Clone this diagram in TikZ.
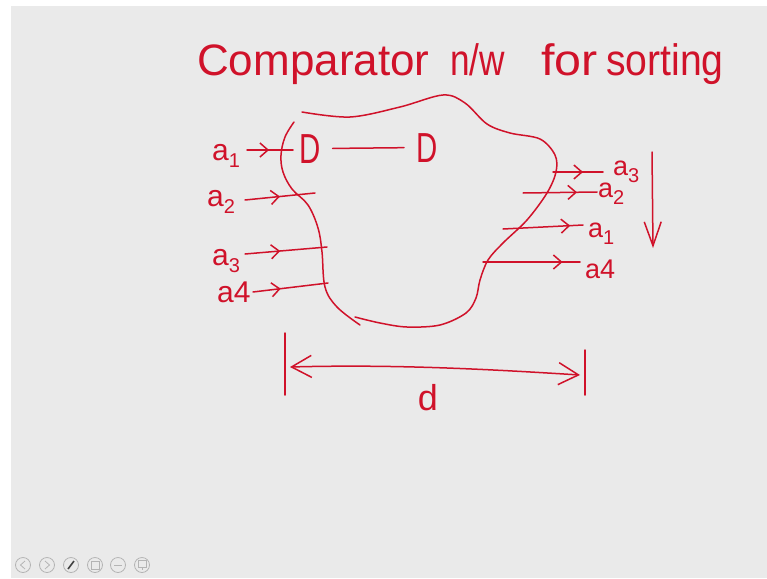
\documentclass[tikz,border=0pt]{standalone}
\usepackage{fontspec}
\setmainfont{Liberation Sans}
\usetikzlibrary{arrows.meta,decorations.markings}
\definecolor{ink}{RGB}{208,18,42}
\definecolor{bgc}{RGB}{234,234,234}
\definecolor{iconc}{RGB}{180,180,180}
\newcommand{\lowsub}[1]{\raisebox{-7pt}{\fontsize{20}{20}\selectfont #1}}
\begin{document}
\begin{tikzpicture}[x=1pt,y=-1pt,
  inkline/.style={draw=ink, line width=1.5pt, line cap=round, line join=round},
  titleword/.style={text=ink, inner sep=0pt, anchor=base west, font=\fontsize{44}{44}\selectfont},
  lab/.style={text=ink, inner sep=0pt, anchor=base west, font=\fontsize{30}{30}\selectfont},
  rlab/.style={text=ink, inner sep=0pt, anchor=base west, font=\fontsize{27}{27}\selectfont},
  dnode/.style={text=ink, inner sep=0pt, anchor=base west, font=\fontsize{42}{42}\selectfont},
  midarrow/.style={postaction={decorate}, decoration={markings,
     mark=at position #1 with {\arrow{Straight Barb[length=8pt,width=14pt]}}}},
  iconring/.style={draw=iconc, line width=0.8pt},
  icon/.style={draw=iconc, line width=0.8pt}
]
\useasboundingbox (0,0) rectangle (767,578);
\fill[white] (0,0) rectangle (767,578);
\fill[bgc] (11,6) rectangle (767,578);

% title
\node[titleword] (t1) at (197,75) {Comparator};
\node[titleword] (t2) at (450,75) {\scalebox{0.8}[1]{n/w}};
\node[titleword] (t3) at (541,75) {\scalebox{1.1}[1]{for}};
\node[titleword] (t4) at (606,75) {\scalebox{0.89}[1]{sorting}};

% blob
\draw[inkline] plot[smooth, tension=0.55] coordinates {(302,112) (350,117) (400,107) (443,95) (465,103) (487,124) (510,133) (540,139) (555,155) (556,172) (547,193) (527,220) (503,243) (488,260) (480,280) (476,298) (466,313) (440,325) (407,327) (380,323) (355,317)};
\draw[inkline] plot[smooth, tension=0.6] coordinates {(294,122) (285,137) (281,155) (283,172) (292,189) (308,205) (318,228) (322,252) (325,287) (337,307) (360,325)};

% D -- D
\node[dnode] (d1) at (299,163) {\scalebox{0.7}[1]{D}};
\node[dnode] (d2) at (416,162) {\scalebox{0.7}[1]{D}};
\draw[inkline, shorten <=12pt, shorten >=12pt] (d1.east) -- (d2.west);

% left labels and arrows
\node[lab] (la1) at (212,160) {a\lowsub{1}};
\node[lab] (la2) at (207,206) {a\lowsub{2}};
\node[lab] (la3) at (212,265) {a\lowsub{3}};
\node[lab] (la4) at (217,302) {a4};
\coordinate (l1s) at (247,150); \coordinate (l1e) at (293,150);
\coordinate (l2s) at (245,200); \coordinate (l2e) at (315,193);
\coordinate (l3s) at (245,254); \coordinate (l3e) at (327,247);
\coordinate (l4s) at (253,292); \coordinate (l4e) at (328,283);
\draw[inkline, midarrow=0.48] (l1s) -- (l1e);
\draw[inkline, midarrow=0.5] (l2s) -- (l2e);
\draw[inkline, midarrow=0.43] (l3s) -- (l3e);
\draw[inkline, midarrow=0.37] (l4s) -- (l4e);

% right labels and arrows
\node[rlab] (ra3) at (613,175) {a\lowsub{3}};
\node[rlab] (ra2) at (598,197) {a\lowsub{2}};
\node[rlab] (ra1) at (588,237) {a\lowsub{1}};
\node[rlab] (ra4) at (585,278) {a4};
\coordinate (r3s) at (553,172); \coordinate (r3e) at (603,172);
\coordinate (r2s) at (523,193); \coordinate (r2e) at (597,192);
\coordinate (r1s) at (503,229); \coordinate (r1e) at (583,225);
\coordinate (r4s) at (483,262); \coordinate (r4e) at (580,262);
\draw[inkline, midarrow=0.6] (r3s) -- (r3e);
\draw[inkline, midarrow=0.73] (r2s) -- (r2e);
\draw[inkline, midarrow=0.84] (r1s) -- (r1e);
\draw[inkline, midarrow=0.82] (r4s) -- (r4e);

% down arrow
\coordinate (dn1) at (652,152); \coordinate (dn2) at (653,248);
\draw[inkline, -{Straight Barb[length=24pt,width=17pt]}] (dn1) -- (dn2);

% dimension d
\coordinate (bl1) at (285,333); \coordinate (bl2) at (285,395);
\coordinate (br1) at (585,350); \coordinate (br2) at (585,395);
\draw[inkline] (bl1) -- (bl2);
\draw[inkline] (br1) -- (br2);
\coordinate (dl) at (290,367); \coordinate (dr) at (580,375);
\draw[inkline, {Straight Barb[length=20pt,width=22pt]}-{Straight Barb[length=20pt,width=22pt]}] (dl) .. controls (400,364) and (500,370) .. (dr);
\node[text=ink, inner sep=0pt, anchor=base, font=\fontsize{36}{36}\selectfont] (dlab) at (428,410) {d};

% toolbar icons
\foreach \x/\n in {23/i1,47/i2,71/i3,95/i4,118/i5,142/i6}{
  \draw[iconring] (\x,565) circle (7.5pt);
}
\draw[icon] (25,561) -- (20.5,565) -- (25,569);
\draw[icon] (45,561) -- (49.5,565) -- (45,569);
\draw[draw=black!75, line width=1.6pt] (68,569) -- (74,561);
\draw[icon] (91,561) rectangle (99,569);
\draw[icon] (114,565) -- (122,565);
\draw[icon] (138,560) rectangle (146,567);
\draw[icon] (142,567) -- (142,570);
\end{tikzpicture}
\end{document}
